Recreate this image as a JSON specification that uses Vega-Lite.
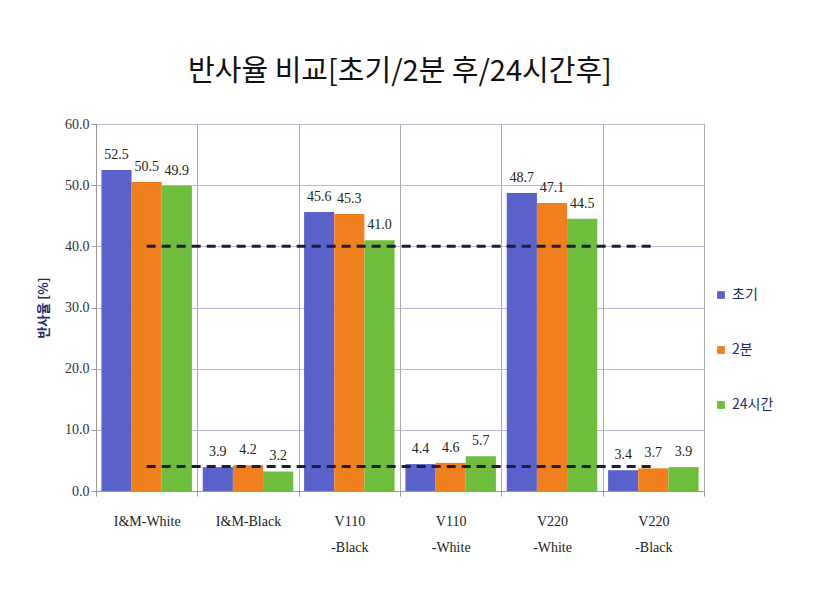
{
  "$schema": "https://vega.github.io/schema/vega-lite/v6.json",
  "width": 608,
  "height": 367,
  "padding": {"left": 37, "top": 58, "right": 20, "bottom": 20},
  "background": "white",
  "title": {"text": "반사율 비교[초기/2분 후/24시간후]", "font": "Noto Sans CJK KR", "fontSize": 29, "fontWeight": "normal", "color": "#111111", "offset": 30, "anchor": "middle"},
  "config": {"view": {"stroke": "#999999"}},
  "data": {"values": [
    {"category": "I&M-White", "series": "초기", "value": 52.5},
    {"category": "I&M-White", "series": "2분", "value": 50.5},
    {"category": "I&M-White", "series": "24시간", "value": 49.9},
    {"category": "I&M-Black", "series": "초기", "value": 3.9},
    {"category": "I&M-Black", "series": "2분", "value": 4.2},
    {"category": "I&M-Black", "series": "24시간", "value": 3.2},
    {"category": "V110 -Black", "series": "초기", "value": 45.6},
    {"category": "V110 -Black", "series": "2분", "value": 45.3},
    {"category": "V110 -Black", "series": "24시간", "value": 41.0},
    {"category": "V110 -White", "series": "초기", "value": 4.4},
    {"category": "V110 -White", "series": "2분", "value": 4.6},
    {"category": "V110 -White", "series": "24시간", "value": 5.7},
    {"category": "V220 -White", "series": "초기", "value": 48.7},
    {"category": "V220 -White", "series": "2분", "value": 47.1},
    {"category": "V220 -White", "series": "24시간", "value": 44.5},
    {"category": "V220 -Black", "series": "초기", "value": 3.4},
    {"category": "V220 -Black", "series": "2분", "value": 3.7},
    {"category": "V220 -Black", "series": "24시간", "value": 3.9}
  ]},
  "encoding": {
    "x": {
      "field": "category", "type": "nominal",
      "scale": {"domain": ["I&M-White", "I&M-Black", "V110 -Black", "V110 -White", "V220 -White", "V220 -Black"], "paddingInner": 0, "paddingOuter": 0},
      "axis": {"title": null, "labelAngle": 0, "tickBand": "extent", "grid": true, "gridColor": "#aaaaaa", "domainColor": "#999999", "tickColor": "#999999", "labelPadding": 18, "labelFont": "Liberation Serif", "labelFontSize": 14, "labelColor": "#222222", "labelExpr": "split(datum.label, ' ')", "labelLineHeight": 26}
    }
  },
  "layer": [
    {
      "mark": {"type": "bar"},
      "encoding": {
        "xOffset": {"field": "series", "type": "nominal", "sort": ["초기", "2분", "24시간"], "scale": {"paddingInner": 0, "paddingOuter": 0.18}},
        "y": {"field": "value", "type": "quantitative", "scale": {"domain": [0, 60]},
          "axis": {"title": "반사율 [%]", "titleFont": "Noto Sans CJK KR", "titleFontSize": 13, "titleFontWeight": "bold", "titleColor": "#1f2a6e", "titlePadding": 14, "values": [0, 10, 20, 30, 40, 50, 60], "format": ".1f", "labelFont": "Liberation Serif", "labelFontSize": 14, "labelColor": "#333333", "grid": true, "gridColor": "#c4b0dc", "domainColor": "#999999", "tickColor": "#999999"}},
        "color": {"field": "series", "type": "nominal", "sort": ["초기", "2분", "24시간"],
          "scale": {"domain": ["초기", "2분", "24시간"], "range": ["#5b62cc", "#f0801e", "#6ebd3c"]},
          "legend": {"title": null, "orient": "none", "legendX": 618, "legendY": 164, "symbolType": "square", "symbolSize": 60, "symbolStrokeWidth": 0, "rowPadding": 41, "labelFont": "Noto Sans CJK KR", "labelFontSize": 14, "labelColor": "#1f2a6e"}}
      }
    },
    {
      "mark": {"type": "text", "baseline": "bottom", "dy": -8, "font": "Liberation Serif", "fontSize": 14, "color": "#222222"},
      "encoding": {
        "xOffset": {"field": "series", "type": "nominal", "sort": ["초기", "2분", "24시간"]},
        "y": {"field": "value", "type": "quantitative"},
        "text": {"field": "value", "type": "quantitative", "format": ".1f"}
      }
    },
    {
      "data": {"values": [
        {"from": "I&M-White", "to": "V220 -Black", "level": 40},
        {"from": "I&M-White", "to": "V220 -Black", "level": 4}
      ]},
      "mark": {"type": "rule", "strokeDash": [9, 6], "strokeWidth": 3, "color": "#1c1c3c"},
      "encoding": {
        "x": {"field": "from", "type": "nominal"},
        "x2": {"field": "to"},
        "y": {"field": "level", "type": "quantitative"}
      }
    }
  ]
}
